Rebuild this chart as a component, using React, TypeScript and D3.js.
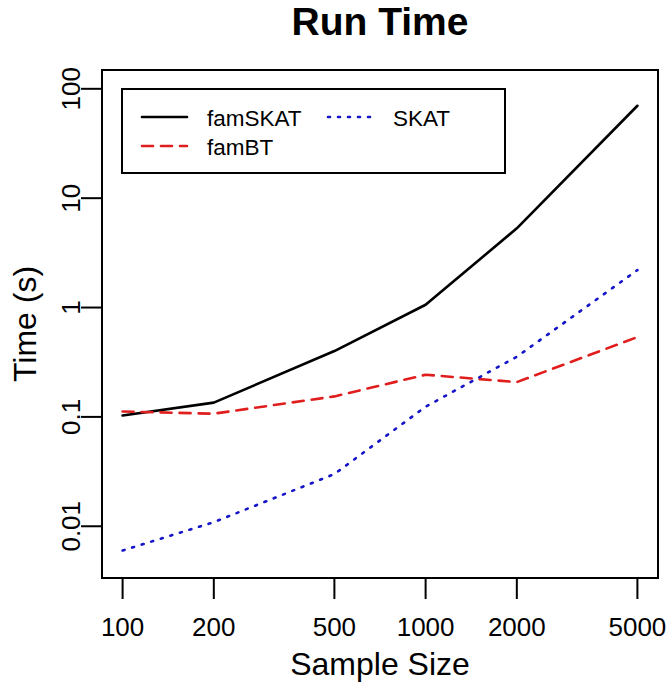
import React from "react";
import * as d3 from "d3";

const sampleSizes = [100, 200, 500, 1000, 2000, 5000];
const famSKAT = [0.103, 0.135, 0.4, 1.06, 5.3, 70];
const famBT = [0.112, 0.107, 0.154, 0.243, 0.208, 0.537];
const SKAT = [0.006, 0.0109, 0.03, 0.124, 0.355, 2.2];
const xTicks = [100, 200, 500, 1000, 2000, 5000];
const yTicks = [0.01, 0.1, 1, 10, 100];
const yTickLabels = ["0.01", "0.1", "1", "10", "100"];
const yLimits = [0.005, 100];

const series = [
  { name: "famSKAT", values: famSKAT, color: "#000000", dash: "none" },
  { name: "famBT", values: famBT, color: "#e01e1e", dash: "11 8" },
  { name: "SKAT", values: SKAT, color: "#1414c8", dash: "2 8" },
];

const FONT = "'Liberation Sans', Arial, Helvetica, sans-serif";

export default function App() {
  const left = 102, right = 658, top = 70, bottom = 578;
  const lx0 = Math.log10(d3.min(sampleSizes)!), lx1 = Math.log10(d3.max(sampleSizes)!);
  const px = 0.04 * (lx1 - lx0);
  const x = d3.scaleLog().domain([10 ** (lx0 - px), 10 ** (lx1 + px)]).range([left, right]);
  const ly0 = Math.log10(yLimits[0]), ly1 = Math.log10(yLimits[1]);
  const py = 0.04 * (ly1 - ly0);
  const y = d3.scaleLog().domain([10 ** (ly0 - py), 10 ** (ly1 + py)]).range([bottom, top]);

  const line = d3
    .line<number>()
    .x((_, i) => x(sampleSizes[i]))
    .y((d) => y(d));

  const tickLen = 21;

  return (
    <svg width={670} height={685} style={{ position: "absolute", left: 0, top: 0, background: "#fff" }} fontFamily={FONT}>
      <rect x={0} y={0} width={670} height={685} fill="#fff" />
      <text x={(left + right) / 2} y={35} textAnchor="middle" fontSize={39} fontWeight="bold">
        Run Time
      </text>

      {series.map((s) => (
        <path
          key={s.name}
          d={line(s.values) || ""}
          fill="none"
          stroke={s.color}
          strokeWidth={2.6}
          strokeDasharray={s.dash}
          strokeLinecap="round"
          strokeLinejoin="round"
        />
      ))}

      <rect x={left} y={top} width={right - left} height={bottom - top} fill="none" stroke="#000" strokeWidth={2} />

      {/* x axis */}
      <line x1={x(xTicks[0])} x2={x(xTicks[xTicks.length - 1])} y1={bottom} y2={bottom} stroke="#000" strokeWidth={2} />
      {xTicks.map((t) => (
        <g key={t}>
          <line x1={x(t)} x2={x(t)} y1={bottom} y2={bottom + tickLen} stroke="#000" strokeWidth={2} />
          <text x={x(t)} y={636} textAnchor="middle" fontSize={26}>
            {t}
          </text>
        </g>
      ))}
      <text x={(left + right) / 2} y={675} textAnchor="middle" fontSize={32}>
        Sample Size
      </text>

      {/* y axis */}
      <line x1={left} x2={left} y1={y(yTicks[0])} y2={y(yTicks[yTicks.length - 1])} stroke="#000" strokeWidth={2} />
      {yTicks.map((t, i) => (
        <g key={t}>
          <line x1={left} x2={left - tickLen} y1={y(t)} y2={y(t)} stroke="#000" strokeWidth={2} />
          <text
            transform={`translate(80,${y(t)}) rotate(-90)`}
            textAnchor="middle"
            fontSize={26}
          >
            {yTickLabels[i]}
          </text>
        </g>
      ))}
      <text transform={`translate(36,${(top + bottom) / 2}) rotate(-90)`} textAnchor="middle" fontSize={32}>
        Time (s)
      </text>

      {/* legend */}
      <rect x={122} y={89} width={383} height={84} fill="#fff" stroke="#000" strokeWidth={2} />
      {[
        { s: series[0], lx: 142, ly: 117 },
        { s: series[1], lx: 142, ly: 146 },
        { s: series[2], lx: 328, ly: 117 },
      ].map(({ s, lx, ly }) => (
        <g key={s.name}>
          <line
            x1={lx}
            x2={lx + 45}
            y1={ly}
            y2={ly}
            stroke={s.color}
            strokeWidth={2.6}
            strokeDasharray={s.dash}
            strokeLinecap="round"
          />
          <text x={lx + 65} y={ly + 9} fontSize={22.5}>
            {s.name}
          </text>
        </g>
      ))}
    </svg>
  );
}
